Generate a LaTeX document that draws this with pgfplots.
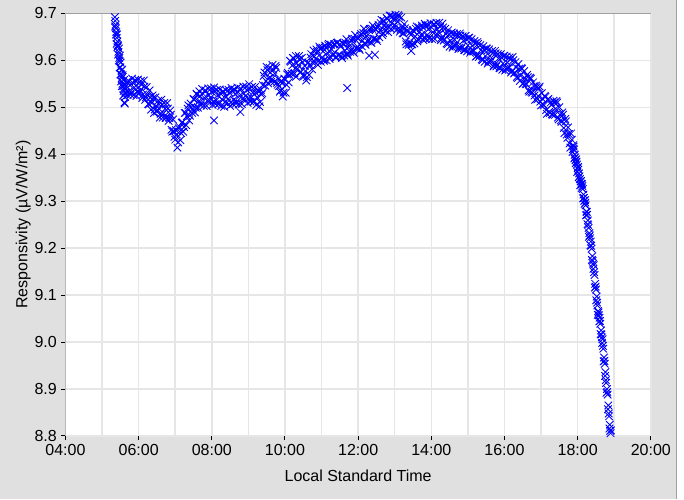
\documentclass[border=0pt]{standalone}
\usepackage{fontspec}
\setmainfont{Liberation Sans}
\usepackage{pgfplots}
\pgfplotsset{compat=1.18}
\definecolor{bggray}{HTML}{E0E0E0}
\definecolor{gridgray}{HTML}{E6E6E6}
\definecolor{framegray}{HTML}{A0A0A0}
\pgfplotsset{resp/.style={only marks, mark=x, mark size=4pt, color=blue, mark options={line width=0.65pt, solid}}}
\begin{document}
\begin{tikzpicture}
\path[use as bounding box] (0,0) rectangle (513pt,374.25pt);
\fill[bggray] (0,0) rectangle (513pt,374.25pt);
\fill[white] (507pt,0) rectangle (513pt,374.25pt);
\draw[framegray,line width=0.75pt] (507pt,0) -- (507pt,374.25pt);
\begin{axis}[
  at={(49.1pt,47.25pt)}, anchor=south west,
  scale only axis, width=439pt, height=317pt,
  xmin=4, xmax=20, ymin=8.8, ymax=9.7,
  axis background/.style={fill=white},
  axis line style={draw=none},
  xtick={4,6,8,10,12,14,16,18,20},
  xticklabels={04:00,06:00,08:00,10:00,12:00,14:00,16:00,18:00,20:00},
  minor xtick={5,7,9,11,13,15,17,19},
  ytick={8.8,8.9,9.0,9.1,9.2,9.3,9.4,9.5,9.6,9.7},
  xtick pos=left, ytick pos=left, tick align=outside,
  major tick length=3pt, minor tick length=0pt,
  every tick/.style={black, line width=0.75pt},
  grid=both,
  major grid style={gridgray, line width=1.1pt},
  minor grid style={gridgray, line width=1.1pt},
  ticklabel style={font=\fontsize{12}{14}\selectfont},
  yticklabel style={/pgf/number format/.cd, fixed, fixed zerofill, precision=1, assume math mode=true},
  xlabel={Local Standard Time},
  ylabel={Responsivity (µV/W/m²)},
  label style={font=\fontsize{12}{14}\selectfont},
  xlabel style={at={(axis description cs:0.5,-0.095)}, anchor=center},
  ylabel style={at={(axis description cs:-0.072,0.5)}, anchor=center},
]
\addplot[resp] coordinates {
(5.35,9.692) (5.36,9.684) (5.37,9.676) (5.38,9.668) (5.39,9.66) (5.40,9.648) (5.41,9.655) (5.42,9.64) (5.43,9.632) (5.44,9.63)
(5.45,9.618) (5.46,9.625) (5.47,9.605) (5.48,9.598) (5.49,9.61) (5.50,9.585) (5.51,9.595) (5.52,9.57) (5.53,9.578) (5.54,9.562)
(5.55,9.58) (5.56,9.55) (5.57,9.565) (5.58,9.545) (5.59,9.535) (5.60,9.558) (5.61,9.51) (5.62,9.528) (5.63,9.548) (5.64,9.532)
(5.62,9.508)
(5.36,9.672) (5.38,9.655) (5.40,9.635) (5.42,9.628) (5.44,9.612) (5.46,9.600) (5.48,9.585) (5.50,9.570) (5.52,9.555) (5.54,9.545)
(5.56,9.568) (5.58,9.525) (5.60,9.540) (5.63,9.522) (5.66,9.545)
(5.68,9.554) (5.72,9.533) (5.76,9.547) (5.80,9.531) (5.84,9.552) (5.88,9.542) (5.92,9.556) (5.96,9.533) (6.00,9.543) (6.04,9.536)
(6.08,9.548) (6.12,9.527) (6.16,9.544) (6.20,9.521) (6.24,9.527) (6.28,9.506) (6.32,9.521) (6.36,9.509) (6.40,9.520) (6.44,9.495)
(6.48,9.503) (6.52,9.494) (6.56,9.506) (6.60,9.486) (6.64,9.506) (6.68,9.487) (6.72,9.497) (6.76,9.479) (6.80,9.497) (6.84,9.477)
(6.88,9.484) (6.92,9.448) (6.96,9.449) (7.00,9.431) (7.04,9.442) (7.08,9.425) (7.12,9.458) (7.16,9.445) (7.20,9.468) (7.24,9.458)
(7.28,9.488) (7.32,9.481) (7.36,9.504) (7.40,9.482) (7.44,9.500) (7.48,9.497) (7.52,9.517) (7.56,9.499) (7.60,9.527) (7.64,9.512)
(7.68,9.524) (7.72,9.509) (7.76,9.529) (7.80,9.520) (7.84,9.535) (7.88,9.514) (7.92,9.526) (7.96,9.520) (8.00,9.533) (8.04,9.512)
(8.08,9.535) (8.12,9.515) (8.16,9.526) (8.20,9.508) (8.24,9.529) (8.28,9.517) (8.32,9.533) (8.36,9.511) (8.40,9.522) (8.44,9.517)
(8.48,9.531) (8.52,9.511) (8.56,9.535) (8.60,9.516) (8.64,9.528) (8.68,9.512) (8.72,9.532) (8.76,9.524) (8.80,9.539) (8.84,9.518)
(8.88,9.529) (8.92,9.524) (8.96,9.537) (9.00,9.519) (9.04,9.540) (9.08,9.521) (9.12,9.531) (9.16,9.513) (9.20,9.531) (9.24,9.521)
(9.28,9.534) (9.32,9.511) (9.36,9.527) (9.40,9.547) (9.44,9.574) (9.48,9.556) (9.52,9.579) (9.56,9.562) (9.60,9.574) (9.64,9.560)
(9.68,9.580) (9.72,9.572) (9.76,9.584) (9.80,9.548) (9.84,9.545) (9.88,9.536) (9.92,9.551) (9.96,9.531) (10.00,9.559) (10.04,9.548)
(10.08,9.573) (10.12,9.569) (10.16,9.597) (10.20,9.589) (10.24,9.604) (10.28,9.583) (10.32,9.594) (10.36,9.589) (10.40,9.603) (10.44,9.575)
(10.48,9.596) (10.52,9.566) (10.56,9.577) (10.60,9.564) (10.64,9.595) (10.68,9.590) (10.72,9.613) (10.76,9.595) (10.80,9.608) (10.84,9.603)
(10.88,9.618) (10.92,9.599) (10.96,9.625) (11.00,9.605) (11.04,9.619) (11.08,9.601) (11.12,9.626) (11.16,9.616) (11.20,9.635) (11.24,9.607)
(11.28,9.623) (11.32,9.614) (11.36,9.634) (11.40,9.607) (11.44,9.638) (11.48,9.612) (11.52,9.629) (11.56,9.605) (11.60,9.636) (11.64,9.621)
(11.68,9.645) (11.72,9.610) (11.76,9.630) (11.80,9.622) (11.84,9.646) (11.88,9.616) (11.92,9.654) (11.96,9.626) (12.00,9.646) (12.04,9.622)
(12.08,9.656) (12.12,9.642) (12.16,9.667) (12.20,9.633) (12.24,9.652) (12.28,9.644) (12.32,9.667) (12.36,9.637) (12.40,9.674) (12.44,9.646)
(12.48,9.665) (12.52,9.641) (12.56,9.675) (12.60,9.663) (12.64,9.686) (12.68,9.658) (12.72,9.675) (12.76,9.670) (12.80,9.688) (12.84,9.670)
(12.88,9.695) (12.92,9.679) (12.96,9.688) (13.00,9.675) (13.04,9.691) (13.08,9.683) (13.12,9.693) (13.16,9.665) (13.20,9.670) (13.24,9.657)
(13.28,9.668) (13.32,9.634) (13.36,9.661) (13.40,9.637) (13.44,9.654) (13.48,9.634) (13.52,9.662) (13.56,9.651) (13.60,9.672) (13.64,9.644)
(13.68,9.661) (13.72,9.654) (13.76,9.671) (13.80,9.648) (13.84,9.674) (13.88,9.653) (13.92,9.666) (13.96,9.649) (14.00,9.671) (14.04,9.660)
(14.08,9.677) (14.12,9.654) (14.16,9.666) (14.20,9.660) (14.24,9.671) (14.28,9.648) (14.32,9.670) (14.36,9.645) (14.40,9.656) (14.44,9.634)
(14.48,9.655) (14.52,9.642) (14.56,9.659) (14.60,9.631) (14.64,9.644) (14.68,9.636) (14.72,9.652) (14.76,9.627) (14.80,9.653) (14.84,9.629)
(14.88,9.642) (14.92,9.622) (14.96,9.645) (15.00,9.632) (15.04,9.648) (15.08,9.619) (15.12,9.631) (15.16,9.621) (15.20,9.636) (15.24,9.609)
(15.28,9.635) (15.32,9.610) (15.36,9.622) (15.40,9.600) (15.44,9.623) (15.48,9.609) (15.52,9.625) (15.56,9.597) (15.60,9.609) (15.64,9.600)
(15.68,9.615) (15.72,9.590) (15.76,9.615) (15.80,9.591) (15.84,9.604) (15.88,9.583) (15.92,9.606) (15.96,9.593) (16.00,9.610) (16.04,9.582)
(16.08,9.595) (16.12,9.586) (16.16,9.602) (16.20,9.577) (16.24,9.600) (16.28,9.574) (16.32,9.585) (16.36,9.562) (16.40,9.582) (16.44,9.567)
(16.48,9.582) (16.52,9.551) (16.56,9.562) (16.60,9.549) (16.64,9.564) (16.68,9.533) (16.72,9.561) (16.76,9.531) (16.80,9.545) (16.84,9.516)
(16.88,9.543) (16.92,9.524) (16.96,9.544) (17.00,9.504) (17.04,9.518) (17.08,9.504) (17.12,9.522) (17.16,9.486) (17.20,9.518) (17.24,9.488)
(17.28,9.505) (17.32,9.484) (17.36,9.510) (17.40,9.497) (17.44,9.510) (17.48,9.474) (17.52,9.484) (17.56,9.469) (17.60,9.484) (17.64,9.445)
(17.68,9.470) (17.72,9.435) (17.76,9.443) (17.80,9.414) (17.84,9.431)
(17.87,9.411) (17.89,9.416) (17.91,9.391) (17.93,9.393) (17.95,9.381) (17.97,9.384) (17.99,9.362) (18.01,9.373) (18.03,9.351) (18.05,9.353)
(18.07,9.334) (18.09,9.343) (18.11,9.328) (18.13,9.332) (18.15,9.306) (18.17,9.307) (18.19,9.294) (18.21,9.297) (18.23,9.270) (18.25,9.277)
(18.27,9.251) (18.29,9.249) (18.31,9.224) (18.33,9.227) (18.35,9.206) (18.37,9.205) (18.39,9.175) (18.41,9.173) (18.43,9.156) (18.45,9.149)
(18.47,9.116) (18.49,9.118) (18.51,9.089) (18.53,9.084) (18.55,9.058) (18.57,9.063) (18.59,9.044) (18.61,9.045) (18.63,9.017) (18.65,9.016)
(18.67,8.998) (18.69,8.992) (18.71,8.959) (18.73,8.960) (18.75,8.928) (18.77,8.919) (18.79,8.892) (18.81,8.894) (18.83,8.857) (18.85,8.848)
(18.87,8.816) (18.89,8.811) (18.90,8.806)
(11.70,9.541) (8.06,9.472) (8.78,9.490) (12.30,9.610) (12.46,9.612) (13.45,9.620) (10.30,9.565)
};
\addplot[resp] coordinates {
(5.70,9.526) (5.74,9.555) (5.78,9.527) (5.82,9.561) (5.86,9.526) (5.90,9.558) (5.94,9.524) (5.98,9.559) (6.02,9.531) (6.06,9.556)
(6.10,9.520) (6.14,9.557) (6.18,9.516) (6.22,9.543) (6.26,9.507) (6.30,9.536) (6.34,9.495) (6.38,9.525) (6.42,9.488) (6.46,9.521)
(6.50,9.491) (6.54,9.514) (6.58,9.478) (6.62,9.516) (6.66,9.478) (6.70,9.509) (6.74,9.477) (6.78,9.509) (6.82,9.471) (6.86,9.493)
(6.90,9.452) (6.94,9.474) (6.98,9.437) (7.02,9.451) (7.06,9.414) (7.10,9.455) (7.14,9.430) (7.18,9.467) (7.22,9.448) (7.26,9.488)
(7.30,9.462) (7.34,9.497) (7.38,9.472) (7.42,9.508) (7.46,9.488) (7.50,9.517) (7.54,9.489) (7.58,9.529) (7.62,9.499) (7.66,9.534)
(7.70,9.504) (7.74,9.539) (7.78,9.503) (7.82,9.536) (7.86,9.503) (7.90,9.540) (7.94,9.514) (7.98,9.540) (8.02,9.505) (8.06,9.542)
(8.10,9.507) (8.14,9.537) (8.18,9.506) (8.22,9.538) (8.26,9.503) (8.30,9.533) (8.34,9.501) (8.38,9.537) (8.42,9.510) (8.46,9.537)
(8.50,9.503) (8.54,9.541) (8.58,9.507) (8.62,9.538) (8.66,9.508) (8.70,9.542) (8.74,9.506) (8.78,9.540) (8.82,9.507) (8.86,9.544)
(8.90,9.517) (8.94,9.544) (8.98,9.509) (9.02,9.549) (9.06,9.512) (9.10,9.543) (9.14,9.511) (9.18,9.543) (9.22,9.505) (9.26,9.537)
(9.30,9.502) (9.34,9.537) (9.38,9.530) (9.42,9.567) (9.46,9.546) (9.50,9.586) (9.54,9.551) (9.58,9.584) (9.62,9.554) (9.66,9.590)
(9.70,9.554) (9.74,9.588) (9.78,9.552) (9.82,9.560) (9.86,9.533) (9.90,9.556) (9.94,9.523) (9.98,9.561) (10.02,9.531) (10.06,9.570)
(10.10,9.553) (10.14,9.599) (10.18,9.571) (10.22,9.605) (10.26,9.572) (10.30,9.609) (10.34,9.582) (10.38,9.609) (10.42,9.575) (10.46,9.605)
(10.50,9.568) (10.54,9.588) (10.58,9.557) (10.62,9.594) (10.66,9.569) (10.70,9.606) (10.74,9.581) (10.78,9.621) (10.82,9.596) (10.86,9.623)
(10.90,9.590) (10.94,9.629) (10.98,9.597) (11.02,9.627) (11.06,9.599) (11.10,9.631) (11.14,9.600) (11.18,9.632) (11.22,9.603) (11.26,9.633)
(11.30,9.611) (11.34,9.634) (11.38,9.606) (11.42,9.637) (11.46,9.610) (11.50,9.634) (11.54,9.609) (11.58,9.635) (11.62,9.610) (11.66,9.637)
(11.70,9.613) (11.74,9.636) (11.78,9.618) (11.82,9.642) (11.86,9.618) (11.90,9.646) (11.94,9.626) (11.98,9.648) (12.02,9.626) (12.06,9.652)
(12.10,9.630) (12.14,9.658) (12.18,9.635) (12.22,9.659) (12.26,9.640) (12.30,9.664) (12.34,9.639) (12.38,9.667) (12.42,9.646) (12.46,9.668)
(12.50,9.645) (12.54,9.671) (12.58,9.649) (12.62,9.679) (12.66,9.654) (12.70,9.684) (12.74,9.663) (12.78,9.690) (12.82,9.660) (12.86,9.695)
(12.90,9.667) (12.94,9.694) (12.98,9.668) (13.02,9.697) (13.06,9.665) (13.10,9.696) (13.14,9.661) (13.18,9.691) (13.22,9.658) (13.26,9.677)
(13.30,9.640) (13.34,9.664) (13.38,9.633) (13.42,9.659) (13.46,9.634) (13.50,9.664) (13.54,9.636) (13.58,9.667) (13.62,9.640) (13.66,9.670)
(13.70,9.649) (13.74,9.674) (13.78,9.643) (13.82,9.678) (13.86,9.646) (13.90,9.675) (13.94,9.646) (13.98,9.679) (14.02,9.645) (14.06,9.676)
(14.10,9.645) (14.14,9.680) (14.18,9.654) (14.22,9.680) (14.26,9.643) (14.30,9.678) (14.34,9.642) (14.38,9.667) (14.42,9.636) (14.46,9.664)
(14.50,9.629) (14.54,9.658) (14.58,9.627) (14.62,9.657) (14.66,9.632) (14.70,9.656) (14.74,9.624) (14.78,9.657) (14.82,9.625) (14.86,9.651)
(14.90,9.622) (14.94,9.652) (14.98,9.619) (15.02,9.648) (15.06,9.616) (15.10,9.645) (15.14,9.619) (15.18,9.641) (15.22,9.608) (15.26,9.639)
(15.30,9.607) (15.34,9.632) (15.38,9.602) (15.42,9.630) (15.46,9.597) (15.50,9.625) (15.54,9.593) (15.58,9.623) (15.62,9.597) (15.66,9.620)
(15.70,9.587) (15.74,9.620) (15.78,9.587) (15.82,9.613) (15.86,9.584) (15.90,9.613) (15.94,9.580) (15.98,9.609) (16.02,9.578) (16.06,9.608)
(16.10,9.583) (16.14,9.606) (16.18,9.574) (16.22,9.607) (16.26,9.572) (16.30,9.596) (16.34,9.565) (16.38,9.592) (16.42,9.556) (16.46,9.583)
(16.50,9.550) (16.54,9.577) (16.58,9.550) (16.62,9.569) (16.66,9.536) (16.70,9.563) (16.74,9.533) (16.78,9.553) (16.82,9.525) (16.86,9.546)
(16.90,9.517) (16.94,9.540) (16.98,9.512) (17.02,9.530) (17.06,9.506) (17.10,9.524) (17.14,9.494) (17.18,9.516) (17.22,9.490) (17.26,9.510)
(17.30,9.485) (17.34,9.514) (17.38,9.484) (17.42,9.513) (17.46,9.478) (17.50,9.500) (17.54,9.472) (17.58,9.489) (17.62,9.456) (17.66,9.475)
(17.70,9.442) (17.74,9.457) (17.78,9.423) (17.82,9.444) (17.86,9.405)
(17.88,9.419) (17.90,9.410) (17.92,9.399) (17.94,9.387) (17.96,9.389) (17.98,9.378) (18.00,9.370) (18.02,9.367) (18.04,9.359) (18.06,9.347)
(18.08,9.342) (18.10,9.337) (18.12,9.336) (18.14,9.326) (18.16,9.314) (18.18,9.301) (18.20,9.302) (18.22,9.291) (18.24,9.278) (18.26,9.271)
(18.28,9.259) (18.30,9.243) (18.32,9.232) (18.34,9.221) (18.36,9.214) (18.38,9.199) (18.40,9.183) (18.42,9.167) (18.44,9.164) (18.46,9.143)
(18.48,9.124) (18.50,9.112) (18.52,9.097) (18.54,9.078) (18.56,9.066) (18.58,9.057) (18.60,9.052) (18.62,9.039) (18.64,9.025) (18.66,9.010)
(18.68,9.006) (18.70,8.986) (18.72,8.967) (18.74,8.954) (18.76,8.936) (18.78,8.913) (18.80,8.900) (18.82,8.888) (18.84,8.865) (18.86,8.842)
(18.88,8.824) (18.91,8.812)
};
\draw[framegray, line width=0.75pt] (rel axis cs:0,0) -- (rel axis cs:0,1) -- (rel axis cs:1,1);
\end{axis}
\end{tikzpicture}
\end{document}
